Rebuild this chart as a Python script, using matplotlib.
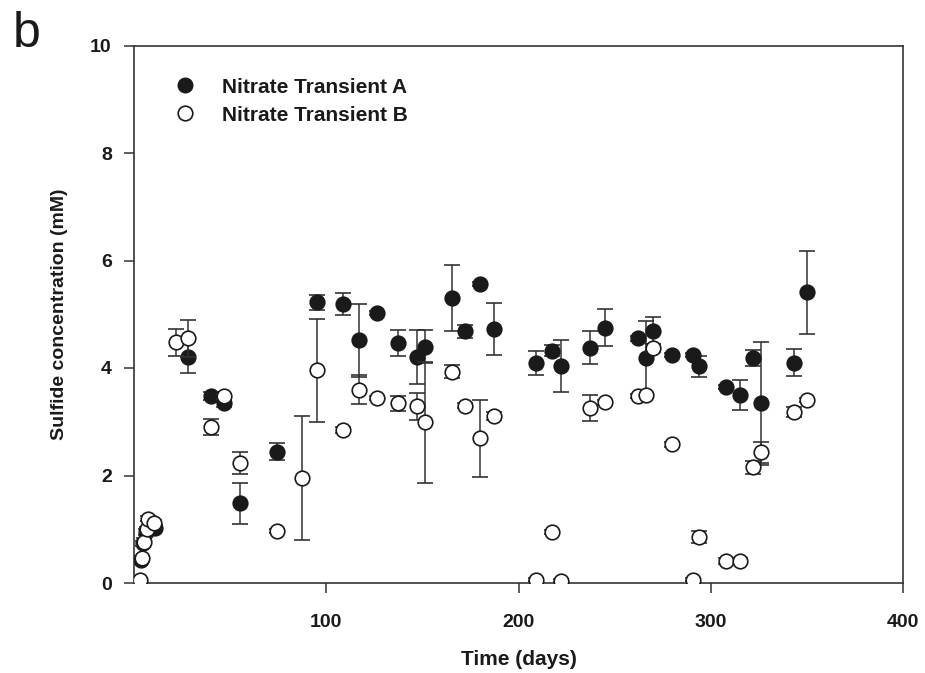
import matplotlib
matplotlib.use("Agg")
import matplotlib.pyplot as plt
from matplotlib.lines import Line2D

plt.rcParams['font.family'] = ['Liberation Sans', 'DejaVu Sans']

# Nitrate Transient A (filled)
days_a = [3.7, 4.8, 6.5, 10.9, 28.2, 39.9, 47.0, 55.0, 74.2, 95.0, 108.9, 117.2, 126.2,
          137.1, 147.0, 151.3, 165.2, 172.1, 179.9, 187.2, 209.0, 217.2, 221.9, 237.1,
          244.9, 261.9, 266.1, 270.0, 279.9, 290.9, 294.0, 307.8, 315.1, 322.0, 326.0,
          343.2, 350.1]
sulf_a = [0.43, 0.74, 0.95, 1.02, 4.20, 3.48, 3.34, 1.48, 2.44, 5.22, 5.19, 4.52, 5.02,
          4.46, 4.21, 4.40, 5.30, 4.68, 5.56, 4.73, 4.09, 4.32, 4.04, 4.38,
          4.75, 4.55, 4.18, 4.69, 4.24, 4.24, 4.03, 3.65, 3.50, 4.18, 3.34,
          4.10, 5.41]
err_a = [0.04, 0.05, 0.05, 0.06, 0.30, 0.07, 0.06, 0.38, 0.16, 0.14, 0.20, 0.68, 0.04,
         0.24, 0.50, 0.30, 0.62, 0.12, 0.04, 0.48, 0.22, 0.10, 0.48, 0.30,
         0.34, 0.05, 0.69, 0.25, 0.04, 0.04, 0.20, 0.04, 0.28, 0.15, 1.15,
         0.25, 0.77]

# Nitrate Transient B (open)
days_b = [3.1, 4.0, 5.4, 6.6, 7.1, 10.6, 21.8, 28.2, 40.2, 47.0, 55.1, 74.2, 87.2, 95.0,
          108.9, 117.2, 126.2, 137.1, 147.0, 151.3, 165.2, 172.1, 179.9, 187.2, 209.0,
          217.2, 221.9, 237.1, 244.9, 261.9, 266.1, 270.0, 279.9, 290.9, 294.0, 307.8,
          315.1, 322.0, 326.0, 343.2, 350.1]
sulf_b = [0.06, 0.46, 0.77, 1.00, 1.20, 1.12, 4.48, 4.55, 2.91, 3.47, 2.23, 0.97, 1.95, 3.96,
          2.85, 3.60, 3.44, 3.34, 3.29, 2.99, 3.93, 3.30, 2.69, 3.11, 0.06,
          0.95, 0.04, 3.25, 3.36, 3.48, 3.49, 4.37, 2.58, 0.06, 0.85, 0.41,
          0.41, 2.15, 2.43, 3.18, 3.40]
err_b = [0.03, 0.05, 0.06, 0.05, 0.05, 0.06, 0.25, 0.34, 0.15, 0.05, 0.21, 0.04, 1.15, 0.96,
         0.05, 0.27, 0.04, 0.14, 0.25, 1.13, 0.12, 0.05, 0.71, 0.07, 0.03,
         0.04, 0.03, 0.24, 0.05, 0.04, 0.05, 0.08, 0.05, 0.03, 0.11, 0.05,
         0.05, 0.12, 0.20, 0.10, 0.04]

x_ticks = [100, 200, 300, 400]
y_ticks = [0, 2, 4, 6, 8, 10]

fig = plt.figure(figsize=(9.25, 6.73), dpi=100)
ax = fig.add_axes([134/925, 1-583/673, 769/925, 537.5/673])

ink = '#1a1a1a'
ax.errorbar(days_a, sulf_a, yerr=err_a, fmt='o', ms=10.5, mfc=ink, mec=ink, mew=1.2,
            ecolor='#333333', elinewidth=1.1, capsize=5.5, capthick=1.1, zorder=3)
ax.errorbar(days_b, sulf_b, yerr=err_b, fmt='o', ms=10.5, mfc='white', mec=ink, mew=1.2,
            ecolor='#333333', elinewidth=1.1, capsize=5.5, capthick=1.1, zorder=4)

ax.set_xlim(0, 400)
ax.set_ylim(0, 10)
ax.set_xticks(x_ticks)
ax.set_yticks(y_ticks)
ax.tick_params(axis='both', direction='out', length=7, width=1.1, color='#333333',
               labelsize=14)
ax.tick_params(axis='x', pad=15)
ax.tick_params(axis='y', pad=9)
for lab in ax.get_xticklabels() + ax.get_yticklabels():
    lab.set_fontweight('bold')
    lab.set_color(ink)
for sp in ax.spines.values():
    sp.set_linewidth(1.2)
    sp.set_color('#333333')

ax.set_xlabel('Time (days)', fontsize=15, fontweight='bold', labelpad=14, color=ink)
ax.set_ylabel('Sulfide concentration (mM)', fontsize=14, fontweight='bold', labelpad=16, color=ink)

handles = [Line2D([], [], ls='none', marker='o', ms=10.5, mfc=ink, mec=ink),
           Line2D([], [], ls='none', marker='o', ms=10.5, mfc='white', mec=ink, mew=1.2)]
leg = ax.legend(handles, ['Nitrate Transient A', 'Nitrate Transient B'], loc='upper left',
                bbox_to_anchor=(0.053, 0.94), frameon=False, handlelength=1.0,
                handletextpad=1.25, labelspacing=0.42, borderaxespad=0, borderpad=0,
                prop={'size': 15, 'weight': 'bold'})
for t in leg.get_texts():
    t.set_color(ink)

fig.text(13/925, 1-47/673, 'b', fontsize=36, va='baseline', ha='left', color=ink)

fig.savefig('out.png', dpi=100)
